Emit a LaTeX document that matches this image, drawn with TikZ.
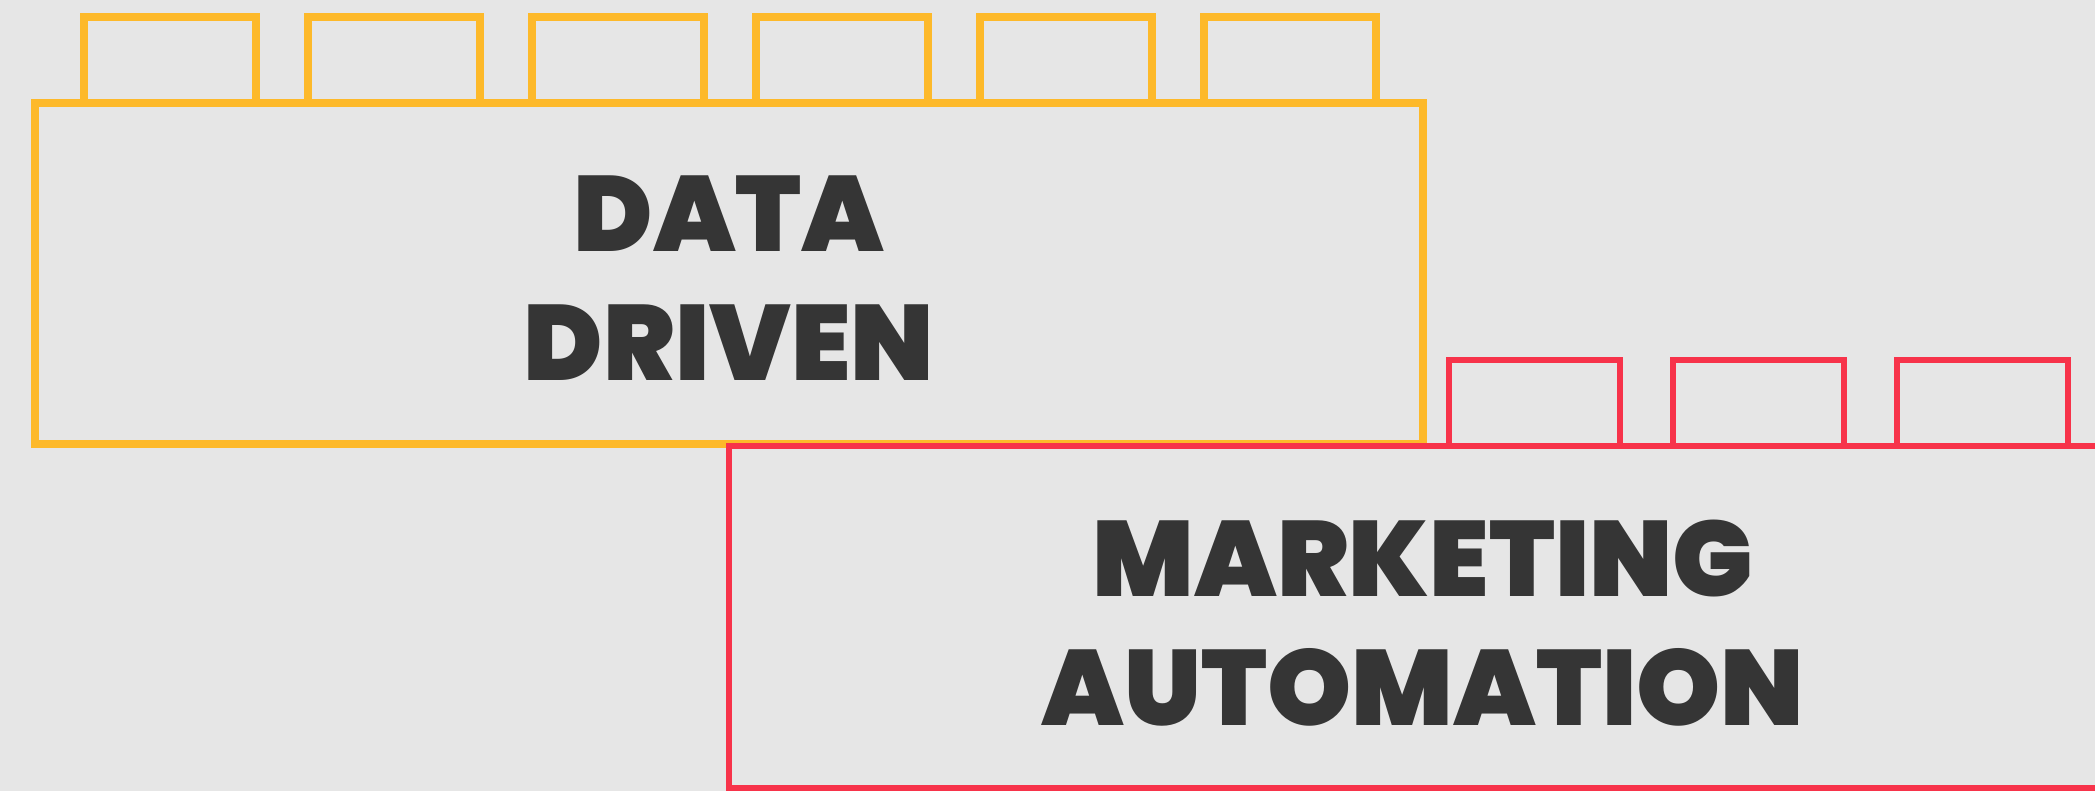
\documentclass[tikz,border=0pt]{standalone}
\usepackage{fontspec}
\newfontfamily\popfont{Poppins}[UprightFont=* Black]
\definecolor{bg}{HTML}{E6E6E6}
\definecolor{brickyellow}{HTML}{FDB92A}
\definecolor{brickred}{HTML}{F7334A}
\definecolor{ink}{HTML}{353535}
\begin{document}
\begin{tikzpicture}[x=1pt,y=-1pt,
  yellowline/.style={draw=brickyellow,line width=8pt},
  redline/.style={draw=brickred,line width=6.7pt},
  brick label/.style={text=ink,font=\popfont\fontsize{107}{129}\selectfont,inner sep=0pt,anchor=base}]
\useasboundingbox (0,0) rectangle (2095,791);
\fill[bg] (0,0) rectangle (2095,791);
\clip (0,0) rectangle (2095,791);
% yellow brick: six studs on top of the body
\foreach \i in {0,...,5}
  \draw[yellowline] ({84+224*\i},103) rectangle ({256+224*\i},17);
\draw[yellowline] (35,103) rectangle (1423,444);
% red brick: three studs, body running off the right edge
\foreach \i in {0,1,2}
  \draw[redline] ({1449+224*\i},446) rectangle ({1620+224*\i},360);
\draw[redline] (729,446) rectangle (2117,788);
% labels
\node[brick label] (data) at (729,252) {DATA};
\node[brick label] (driven) at (729,381) {DRIVEN};
\node[brick label] (marketing) at (1423,596) {MARKETING};
\node[brick label] (automation) at (1423,725) {AUTOMATION};
\end{tikzpicture}
\end{document}
